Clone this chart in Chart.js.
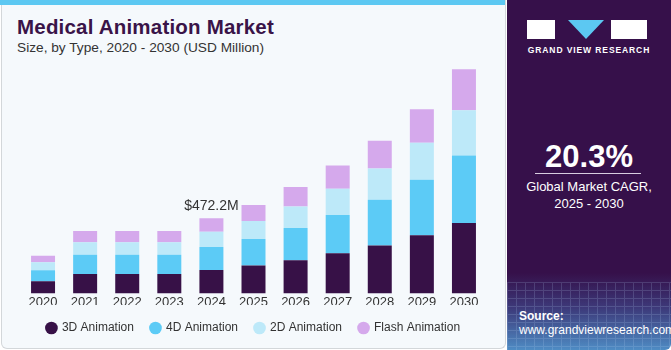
<!DOCTYPE html>
<html>
<head>
<meta charset="utf-8">
<script src="https://cdn.jsdelivr.net/npm/chart.js@4.4.1/dist/chart.umd.min.js"></script>
<style>
  html, body { margin: 0; padding: 0; }
  body { width: 671px; height: 350px; position: relative; overflow: hidden; background: #ffffff; font-family: "Liberation Sans", Arial, sans-serif; }
  #left { position: absolute; left: 1px; top: 0; width: 503px; height: 348px; background: #f5f9fc; border: 1px solid #d3d7da; border-top: none; border-radius: 0 0 6px 6px; }
  #strip { position: absolute; left: 0; top: 0; width: 505px; height: 5px; background: #5cc8f2; }
  #title { position: absolute; left: 17px; top: 15px; font-size: 20.5px; font-weight: bold; color: #3a1448; letter-spacing: 0.2px; }
  #subtitle { position: absolute; left: 17px; top: 40px; font-size: 13.7px; color: #333; }
  #wrap { position: absolute; left: 0; top: 60px; width: 505px; height: 290px; }
  #right { position: absolute; left: 507px; top: 0; width: 164px; height: 350px; border-radius: 0 0 6px 0;
           background: linear-gradient(180deg, #36104a 0%, #36104a 78%, #3d3a7a 88%, #4f8cc4 100%); overflow: hidden; }
  #grid { position: absolute; left: 0; top: 282px; width: 164px; height: 68px; opacity: 0.18;
          background-image: linear-gradient(#b9d4f0 1px, transparent 1px), linear-gradient(90deg, #b9d4f0 1px, transparent 1px);
          background-size: 9px 8px; }
  .logo { position: absolute; background: #ffffff; }
  #g1 { left: 20px; top: 20px; width: 28px; height: 19px; }
  #g3 { left: 104px; top: 20px; width: 36px; height: 19px; }
  #tri { position: absolute; left: 61px; top: 20px; width: 0; height: 0; border-left: 18px solid transparent; border-right: 18px solid transparent; border-top: 19px solid #5cc8f2; }
  #gvr { position: absolute; left: 0; width: 164px; top: 45px; text-align: center; color: #fff; font-size: 8.5px; font-weight: bold; letter-spacing: 0.9px; }
  #cagr { position: absolute; left: 0; width: 164px; top: 139px; text-align: center; color: #fff; font-size: 31px; font-weight: bold; }
  #line { position: absolute; left: 28px; width: 106px; top: 173px; height: 1px; background: #d8cde0; }
  #cagrtxt { position: absolute; left: 0; width: 164px; top: 178px; text-align: center; color: #fff; font-size: 13px; line-height: 17px; }
  #src { position: absolute; left: 12px; top: 309px; color: #fff; font-size: 12px; line-height: 14px; }
</style>
</head>
<body>
<div id="left"></div>
<div id="strip"></div>
<div id="title">Medical Animation Market</div>
<div id="subtitle">Size, by Type, 2020 - 2030 (USD Million)</div>
<div id="wrap"><canvas id="chart" width="505" height="290"></canvas></div>
<div id="right">
  <div id="grid"></div>
  <div class="logo" id="g1"></div>
  <div id="tri"></div>
  <div class="logo" id="g3"></div>
  <div id="gvr">GRAND VIEW RESEARCH</div>
  <div id="cagr">20.3%</div>
  <div id="line"></div>
  <div id="cagrtxt">Global Market CAGR,<br>2025 - 2030</div>
  <div id="src"><b>Source:</b><br>www.grandviewresearch.com</div>
</div>
<script>
const years = ['2020', '2021', '2022', '2023', '2024', '2025', '2026', '2027', '2028', '2029', '2030'];
const anim3D = [76, 122, 122, 122, 147.3, 175, 208.6, 252.8, 301.5, 364.7, 442.4];
const anim4D = [69.5, 120, 120, 120, 143.5, 166, 202, 240, 286.3, 349.5, 423.4];
const anim2D = [50.6, 80, 80, 80, 96.7, 114, 134.6, 164, 196, 232, 284.4];
const animFlash = [39.8, 69.5, 69.5, 69.5, 84.7, 101, 122.6, 147.3, 175, 210.5, 257.2];
const calloutIndex = 4;
const calloutText = '$472.2M';

const calloutPlugin = {
    id: 'callout',
    afterDatasetsDraw(chart) {
        const meta = chart.getDatasetMeta(3);
        const bar = meta.data[calloutIndex];
        const ctx = chart.ctx;
        ctx.save();
        ctx.font = '14px "Liberation Sans", Arial, sans-serif';
        ctx.fillStyle = '#333333';
        ctx.textAlign = 'center';
        ctx.textBaseline = 'bottom';
        ctx.fillText(calloutText, bar.x, bar.y - 5);
        ctx.restore();
    }
};

const ctx = document.getElementById('chart').getContext('2d');
new Chart(ctx, {
    type: 'bar',
    data: {
        labels: years,
        datasets: [
            { label: '3D Animation', data: anim3D, backgroundColor: '#371147' },
            { label: '4D Animation', data: anim4D, backgroundColor: '#5ccbf6' },
            { label: '2D Animation', data: anim2D, backgroundColor: '#bde9f9' },
            { label: 'Flash Animation', data: animFlash, backgroundColor: '#d5a9ec' }
        ]
    },
    options: {
        responsive: false,
        animation: false,
        layout: { padding: { left: 22, right: 20, top: 0, bottom: 6 } },
        datasets: { bar: { categoryPercentage: 1, barPercentage: 0.57, borderWidth: 0 } },
        scales: {
            x: {
                stacked: true,
                grid: { display: false, drawTicks: false },
                border: { display: false },
                ticks: { color: '#333', font: { size: 13, family: '"Liberation Sans", Arial, sans-serif' }, padding: 1 },
                afterFit(scale) { scale.height -= 6; }
            },
            y: {
                stacked: true,
                display: false,
                min: 0,
                max: 1466
            }
        },
        plugins: {
            tooltip: { enabled: false },
            legend: {
                position: 'bottom',
                labels: {
                    usePointStyle: true,
                    pointStyle: 'circle',
                    boxWidth: 9,
                    boxHeight: 9,
                    padding: 17,
                    color: '#333',
                    font: { size: 12, family: '"Liberation Sans", Arial, sans-serif' }
                }
            }
        }
    },
    plugins: [calloutPlugin]
});
</script>
</body>
</html>
